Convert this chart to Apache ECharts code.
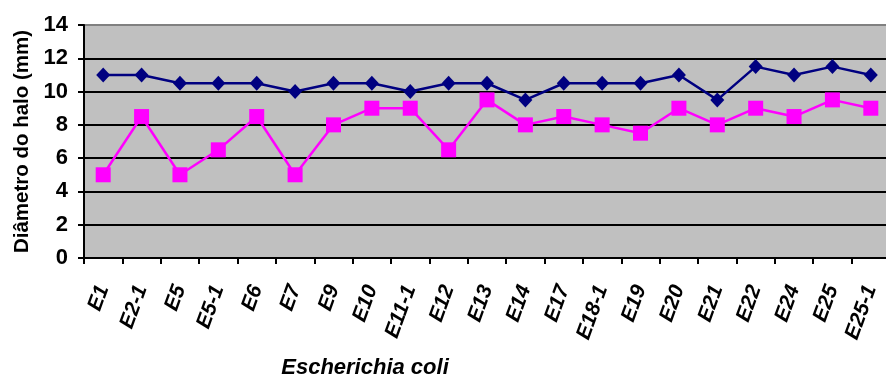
<!DOCTYPE html>
<html>
<head>
<meta charset="utf-8">
<script src="https://cdn.jsdelivr.net/npm/echarts@6/dist/echarts.min.js"></script>
<style>
  html, body { margin: 0; padding: 0; background: #fff; }
  #chart { width: 886px; height: 378px; }
</style>
</head>
<body>
<div id="chart"></div>
<script>
// isolates of Escherichia coli
const categories = ['E1', 'E2-1', 'E5', 'E5-1', 'E6', 'E7', 'E9', 'E10', 'E11-1', 'E12', 'E13',
  'E14', 'E17', 'E18-1', 'E19', 'E20', 'E21', 'E22', 'E24', 'E25', 'E25-1'];
const seriesBlue = [11, 11, 10.5, 10.5, 10.5, 10, 10.5, 10.5, 10, 10.5, 10.5,
  9.5, 10.5, 10.5, 10.5, 11, 9.5, 11.5, 11, 11.5, 11];
const seriesPink = [5, 8.5, 5, 6.5, 8.5, 5, 8, 9, 9, 6.5, 9.5,
  8, 8.5, 8, 7.5, 9, 8, 9, 8.5, 9.5, 9];
const yTicks = [0, 2, 4, 6, 8, 10, 12, 14];

const font = 'Liberation Sans, Arial, sans-serif';
let chart = echarts.init(document.getElementById('chart'));
let option = {
  animation: false,
  grid: {
    left: 84,
    right: -4,
    top: 25,
    bottom: 120,
    containLabel: false,
    outerBoundsMode: 'none',
    show: true,
    backgroundColor: '#c0c0c0',
    borderWidth: 0
  },
  xAxis: {
    type: 'category',
    data: categories,
    boundaryGap: true,
    name: 'Escherichia coli',
    nameLocation: 'middle',
    nameGap: 99,
    nameTextStyle: {
      fontFamily: font,
      fontSize: 22,
      fontWeight: 'bold',
      fontStyle: 'italic',
      color: '#000',
      padding: [0, 244, 0, 0]
    },
    axisLine: { lineStyle: { color: '#000', width: 2 } },
    axisTick: { show: true, length: 6, lineStyle: { color: '#000', width: 2 } },
    axisLabel: {
      rotate: 70,
      interval: 0,
      margin: 28,
      fontFamily: font,
      fontSize: 21,
      fontWeight: 'bold',
      fontStyle: 'italic',
      color: '#000'
    },
    splitLine: { show: false }
  },
  yAxis: {
    type: 'value',
    min: yTicks[0],
    max: yTicks[yTicks.length - 1],
    interval: 2,
    name: 'Diâmetro do halo (mm)',
    nameLocation: 'middle',
    nameGap: 51,
    nameTextStyle: {
      fontFamily: font,
      fontSize: 20.5,
      fontWeight: 'bold',
      color: '#000'
    },
    axisLine: { show: true, lineStyle: { color: '#000', width: 2 } },
    axisTick: { show: true, length: 6, lineStyle: { color: '#000', width: 2 } },
    axisLabel: {
      margin: 16,
      fontFamily: font,
      fontSize: 22,
      fontWeight: 'bold',
      color: '#000'
    },
    splitLine: { show: true, lineStyle: { color: '#000', width: 2 } }
  },
  series: [
    {
      type: 'line',
      data: seriesBlue,
      symbol: 'diamond',
      symbolSize: [14, 15],
      lineStyle: { color: '#000080', width: 2.5 },
      itemStyle: { color: '#000080' }
    },
    {
      type: 'line',
      data: seriesPink,
      symbol: 'rect',
      symbolSize: 15,
      lineStyle: { color: '#ff00ff', width: 2.5 },
      itemStyle: { color: '#ff00ff' }
    }
  ]
};
chart.setOption(option);
// top border of the plot area
chart.setOption({
  graphic: [{
    type: 'line',
    shape: { x1: 84, y1: 25, x2: 886, y2: 25 },
    style: { stroke: '#808080', lineWidth: 2 }
  }]
});
</script>
</body>
</html>
